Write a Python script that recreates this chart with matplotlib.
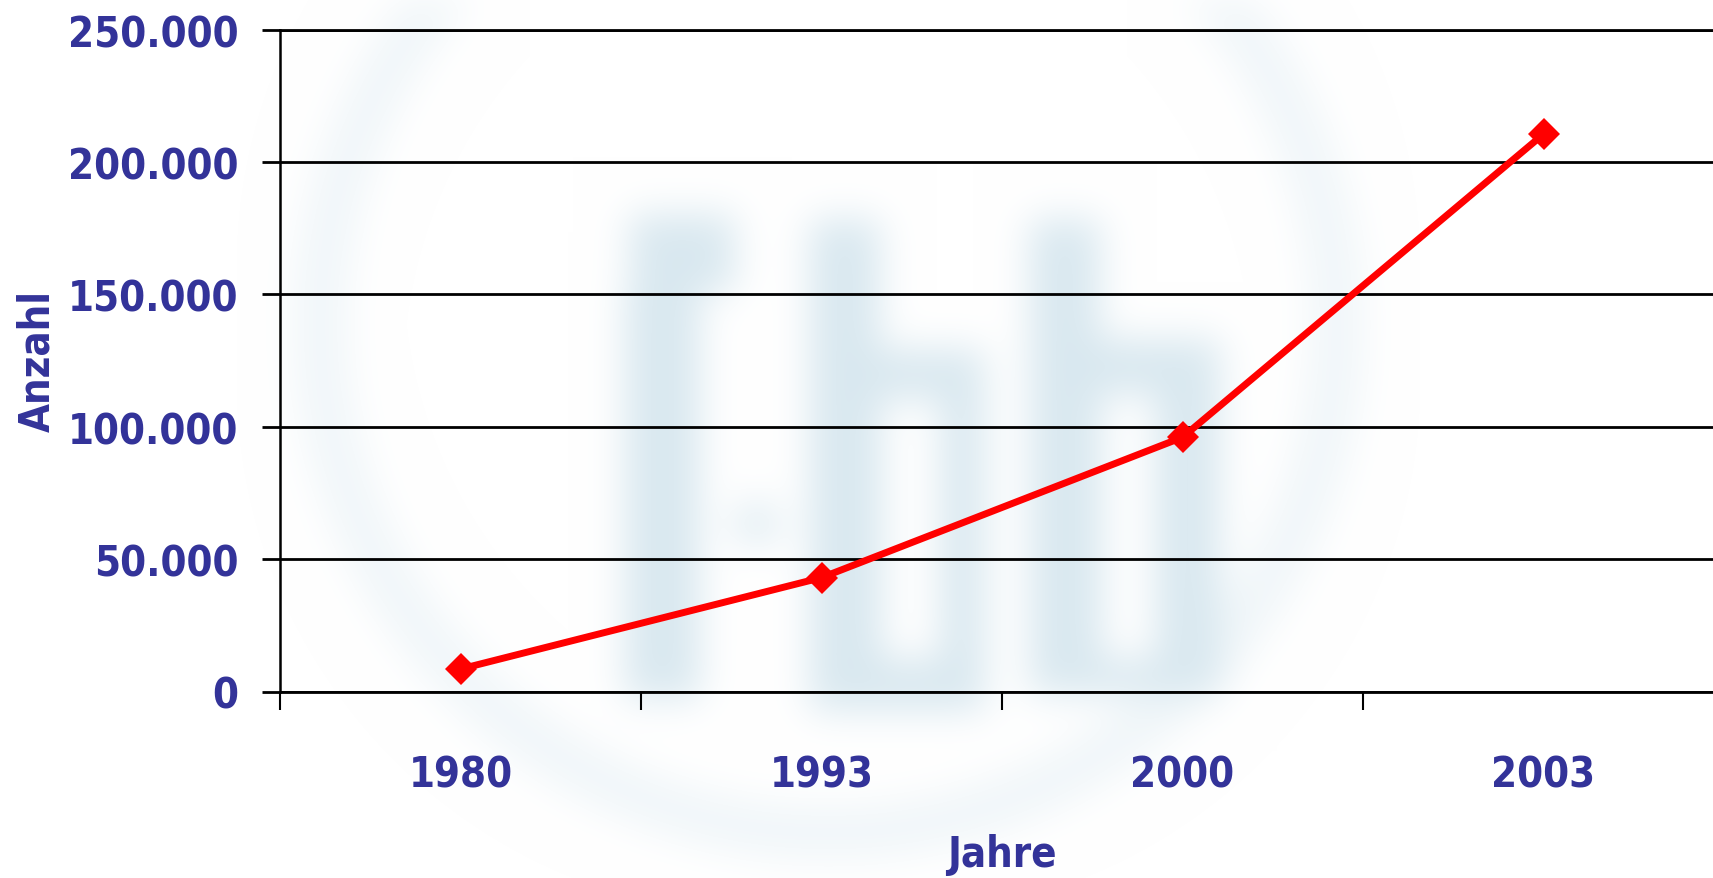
import numpy as np
import matplotlib
matplotlib.use('Agg')
import matplotlib.pyplot as plt
from matplotlib import font_manager as fm
from matplotlib.ticker import FuncFormatter

# Anzahl pro Jahr
years = ['1980', '1993', '2000', '2003']
anzahl = [8500, 43000, 96000, 210500]
y_ticks = [0, 50000, 100000, 150000, 200000, 250000]

TEXT_COLOR = '#333399'
LINE_COLOR = '#ff0000'
W, H = 1713, 879


def narrow_font():
    # look for a condensed bold face; fall back to a smaller DejaVu Sans
    narrow = ('condensed', 'extra-condensed', 'ultra-condensed', 'semi-condensed')
    for f in fm.fontManager.ttflist:
        stretch = f.stretch if isinstance(f.stretch, str) else ('condensed' if f.stretch < 500 else 'normal')
        if (stretch in narrow or 'Narrow' in f.name or 'Condensed' in f.name) and \
                str(f.weight) in ('bold', '700', 'heavy', '800', '900', 'extra bold', 'black'):
            return fm.FontProperties(fname=f.fname), 30
    return fm.FontProperties(family='DejaVu Sans', weight='bold'), 26


def gaussian_blur(img, sigma):
    r = int(3 * sigma)
    k = np.exp(-0.5 * (np.arange(-r, r + 1) / sigma) ** 2)
    k /= k.sum()
    img = np.apply_along_axis(lambda row: np.convolve(row, k, mode='same'), 1, img)
    img = np.apply_along_axis(lambda col: np.convolve(col, k, mode='same'), 0, img)
    return img


def logo_background():
    # pale logo behind the chart: ring plus three letters, heavily blurred
    yy, xx = np.mgrid[0:H, 0:W]
    m = np.zeros((H, W))

    d = np.hypot(xx - 828, yy - 325)
    m[(d > 482) & (d < 535)] = 0.38

    def box(x0, x1, y0, y1, v=1.0):
        m[y0:y1, x0:x1] = v

    # first letter: stem with hook on top, plus a small dot
    box(625, 700, 290, 700)
    box(630, 735, 215, 292)
    m[np.hypot(xx - 756, yy - 524) < 24] = 0.8
    # second letter
    box(810, 985, 350, 712)
    box(810, 880, 220, 712)
    box(882, 940, 400, 660, 0.0)
    # third letter
    box(1030, 1220, 340, 695)
    box(1030, 1100, 220, 695)
    box(1102, 1155, 395, 660, 0.0)

    m = np.clip(gaussian_blur(m, 19), 0, 1)
    tint = np.array([0.85, 0.91, 0.94])
    rgb = 1 - m[..., None] * (1 - tint)[None, None, :]
    return rgb


font, fsize = narrow_font()

fig = plt.figure(figsize=(W / 100, H / 100), dpi=100)

bg = fig.add_axes([0, 0, 1, 1], zorder=0)
bg.imshow(logo_background(), aspect='auto', extent=(0, 1, 0, 1), interpolation='bilinear')
bg.axis('off')

ax = fig.add_axes([280 / W, 1 - 692.5 / H, 1444 / W, 662 / H], zorder=1)
ax.patch.set_alpha(0)

x = np.arange(len(years))
ax.plot(x, anzahl, color=LINE_COLOR, lw=5, marker='D', ms=16.5,
        mfc=LINE_COLOR, mec=LINE_COLOR, mew=0, zorder=3, clip_on=False)

ax.set_xlim(-0.5, len(years) - 0.5)
ax.set_ylim(0, 250000)

ax.set_yticks(y_ticks)
ax.yaxis.set_major_formatter(FuncFormatter(lambda v, p: f'{v:,.0f}'.replace(',', '.')))
ax.yaxis.grid(True, color='black', lw=2)
ax.set_axisbelow(True)

ax.set_xticks(np.arange(len(years) + 1) - 0.5)
ax.set_xticklabels([])
ax.set_xticks(x, minor=True)
ax.set_xticklabels(years, minor=True)

ax.tick_params(axis='y', length=13, width=2, pad=17, colors='black')
ax.tick_params(axis='x', which='major', length=13, width=1.5, colors='black')
ax.tick_params(axis='x', which='minor', length=0, pad=45)

for lab in ax.get_yticklabels() + ax.get_xticklabels(minor=True):
    lab.set_fontproperties(font)
    lab.set_fontsize(fsize)
    lab.set_color(TEXT_COLOR)

for side in ['left', 'bottom', 'top']:
    ax.spines[side].set_color('black')
    ax.spines[side].set_linewidth(2)
ax.spines['left'].set_linewidth(1.8)
ax.spines['right'].set_visible(False)

ax.set_xlabel('Jahre', fontproperties=font, fontsize=fsize, color=TEXT_COLOR)
ax.xaxis.set_label_coords(0.5, -0.2455)
ax.xaxis.label.set_va('center')
ax.set_ylabel('Anzahl', fontproperties=font, fontsize=fsize, color=TEXT_COLOR)
ax.yaxis.set_label_coords(-0.1683, 0.5)
ax.yaxis.label.set_va('center')

fig.savefig('out.png', dpi=100)
